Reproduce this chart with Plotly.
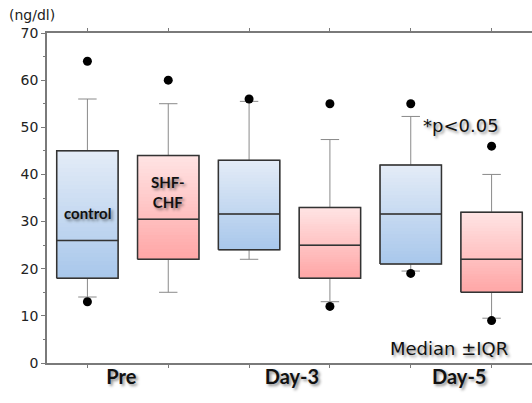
import plotly.graph_objects as go

# ---------------- data (ng/dl) ----------------
groups = ["Pre", "Day-3", "Day-5"]
series_names = ["control", "SHF-CHF"]

control_q1 = [18, 24, 21]
control_median = [26, 31.6, 31.6]
control_q3 = [45, 43, 42]
control_low = [14, 22, 19.5]
control_high = [56, 55.5, 52.3]
control_outliers = [[64, 13], [56], [55, 19]]

shf_q1 = [22, 18, 15]
shf_median = [30.5, 25, 22]
shf_q3 = [44, 33, 32]
shf_low = [15, 13, 9.5]
shf_high = [55, 47.4, 40]
shf_outliers = [[60], [55, 12], [46, 9]]

y_ticks = [0, 10, 20, 30, 40, 50, 60, 70]

# ---------------- style ----------------
BOX_W = 0.76
N_STRIPS = 30
control_top, control_bot = (228, 236, 247), (168, 199, 235)
shf_top, shf_bot = (255, 228, 228), (255, 166, 166)
SHADOW = "2px 2px 3px rgba(0,0,0,0.45)"

ctrl_x = [2 * i for i in range(len(groups))]
shf_x = [2 * i + 1 for i in range(len(groups))]


def mix(c_bot, c_top, t):
    return "rgb(%d,%d,%d)" % tuple(round(b + (a - b) * t) for a, b in zip(c_top, c_bot))


fig = go.Figure()

# gradient fills of the boxes (stacked strips from Q1 to Q3)
for xs, q1, q3, cb, ct in [(ctrl_x, control_q1, control_q3, control_bot, control_top),
                           (shf_x, shf_q1, shf_q3, shf_bot, shf_top)]:
    for i in range(N_STRIPS):
        t = (i + 0.5) / N_STRIPS
        h = [(b - a) / N_STRIPS for a, b in zip(q1, q3)]
        fig.add_trace(go.Bar(
            x=xs, y=[v * 1.08 for v in h],
            base=[a + hh * i for a, hh in zip(q1, h)],
            width=BOX_W, marker=dict(color=mix(cb, ct, t), line=dict(width=0)),
            showlegend=False, hoverinfo="skip"))

# box plots (whiskers) from summary statistics
for name, xs, q1, med, q3, lo, hi in [
        ("control", ctrl_x, control_q1, control_median, control_q3, control_low, control_high),
        ("SHF-CHF", shf_x, shf_q1, shf_median, shf_q3, shf_low, shf_high)]:
    fig.add_trace(go.Box(
        name=name, x=xs, q1=q1, median=med, q3=q3, lowerfence=lo, upperfence=hi,
        width=BOX_W, whiskerwidth=0.3, fillcolor="rgba(0,0,0,0)",
        line=dict(color="#8a8a8a", width=1), boxpoints=False, showlegend=False))

# dark box outlines and median lines
for xs, q1, med, q3 in [(ctrl_x, control_q1, control_median, control_q3),
                        (shf_x, shf_q1, shf_median, shf_q3)]:
    px, py = [], []
    for c, a, m, b in zip(xs, q1, med, q3):
        l, r = c - BOX_W / 2, c + BOX_W / 2
        px += [l, r, r, l, l, None, l, r, None]
        py += [a, a, b, b, a, None, m, m, None]
    fig.add_trace(go.Scatter(x=px, y=py, mode="lines",
                             line=dict(color="#333333", width=1.5),
                             showlegend=False, hoverinfo="skip"))

# outliers
for xs, outs in [(ctrl_x, control_outliers), (shf_x, shf_outliers)]:
    ox, oy = [], []
    for c, vals in zip(xs, outs):
        for v in vals:
            ox.append(c)
            oy.append(v)
    fig.add_trace(go.Scatter(x=ox, y=oy, mode="markers",
                             marker=dict(color="black", size=9),
                             showlegend=False))

# invisible trace to activate group-label axis
fig.add_trace(go.Scatter(x=[0], y=[0], xaxis="x2", mode="markers",
                         marker=dict(opacity=0), showlegend=False, hoverinfo="skip"))

label_pos = [0.42, 2.53, 4.6]

fig.update_layout(
    width=532, height=403,
    margin=dict(l=47, r=0, t=33, b=40),
    paper_bgcolor="white", plot_bgcolor="white",
    barmode="overlay", bargap=0,
    font=dict(family="DejaVu Sans", color="#222222"),
    xaxis=dict(range=[-0.5, 5.5], tickvals=list(range(6)), ticktext=[""] * 6,
               showline=True, linecolor="#7a7a7a", linewidth=1.5, mirror="ticks",
               ticks="outside", ticklen=3, tickcolor="#7a7a7a",
               showgrid=False, zeroline=False, fixedrange=True),
    xaxis2=dict(range=[-0.5, 5.5], overlaying="x", side="bottom", anchor="y",
                tickvals=label_pos, ticktext=groups, ticks="", showline=False,
                showgrid=False, zeroline=False,
                tickfont=dict(family="Lato", size=20, color="#111111", weight="bold",
                              shadow=SHADOW)),
    yaxis=dict(range=[0, 70], tickvals=y_ticks, showline=True, linecolor="#7a7a7a",
               linewidth=1.5, ticks="outside", ticklen=4, tickcolor="#7a7a7a",
               minor=dict(dtick=5, ticks="outside", ticklen=2, tickcolor="#7a7a7a"),
               tickfont=dict(size=14, color="#222222"),
               showgrid=False, zeroline=False),
    annotations=[
        dict(text="(ng/dl)", xref="paper", yref="paper", x=-0.083, y=1.055,
             xanchor="left", yanchor="middle", showarrow=False,
             font=dict(size=14, color="#222222")),
        dict(text="control", x=0, y=31.8, showarrow=False,
             font=dict(family="Lato", size=15, color="#111111", weight="bold",
                       shadow=SHADOW)),
        dict(text="SHF-<br>CHF", x=1, y=36.2, showarrow=False,
             font=dict(family="Lato", size=15, color="#111111", weight="bold",
                       shadow=SHADOW)),
        dict(text="*p<0.05", x=4.617, y=50.3, showarrow=False,
             font=dict(size=18, color="#111111", shadow=SHADOW)),
        dict(text="Median ±IQR", x=4.475, y=3.0, showarrow=False,
             font=dict(size=18, color="#111111", shadow=SHADOW)),
    ],
)

fig.write_html("out.html", config={"displayModeBar": False},
               post_script="document.body.style.margin='0px';"
                           "document.body.style.overflow='hidden';")
